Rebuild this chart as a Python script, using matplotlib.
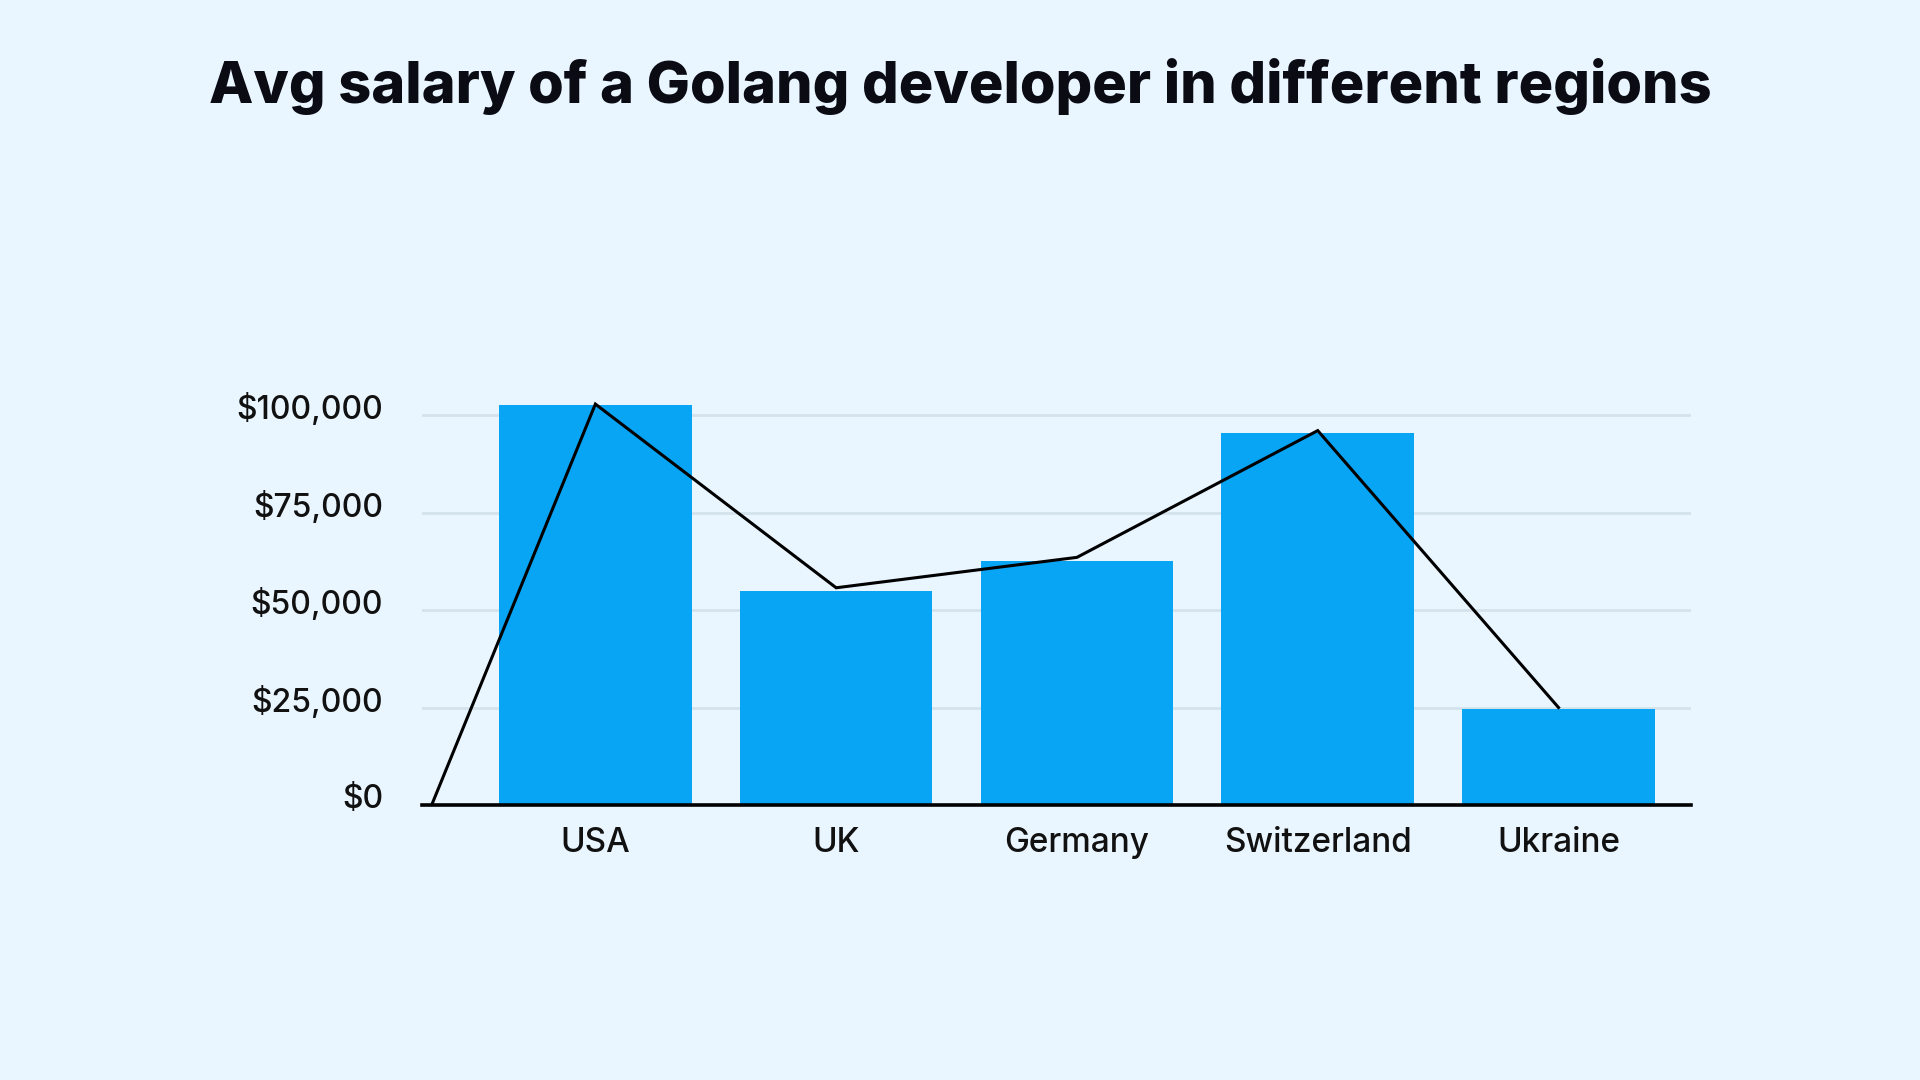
import matplotlib
matplotlib.use("Agg")
import matplotlib.pyplot as plt
import matplotlib.transforms as mtransforms
from matplotlib.ticker import FuncFormatter

# data
regions = ["USA", "UK", "Germany", "Switzerland", "Ukraine"]
salary = [102500, 55000, 62500, 95500, 24600]
line_x = [-0.68, 0, 1, 2, 3, 4]
line_y = [0, 102800, 55700, 63500, 96000, 25000]
yticks = [0, 25000, 50000, 75000, 100000]

BG = "#EAF6FF"
BAR = "#09A5F5"
GRID = "#D3E2EB"

plt.rcParams["font.family"] = ["Inter", "DejaVu Sans"]

fig = plt.figure(figsize=(19.2, 10.8), dpi=100, facecolor=BG)
ax = fig.add_axes([0.2198, 0.2546, 0.6609, 0.3792], facecolor=BG)

ax.bar(range(len(regions)), salary, width=0.8, color=BAR, zorder=2)
ax.plot(line_x, line_y, color="black", lw=2.2, zorder=3, solid_joinstyle="miter")

ax.set_xlim(-0.72, 4.55)
ax.set_ylim(0, 105000)
ax.set_yticks(yticks)
ax.yaxis.set_major_formatter(FuncFormatter(lambda v, p: f"${v:,.0f}"))
ax.set_xticks(range(len(regions)))
ax.set_xticklabels(regions)

ax.grid(axis="y", color=GRID, lw=2, zorder=0)
for s in ["top", "right", "left"]:
    ax.spines[s].set_visible(False)
ax.spines["bottom"].set_linewidth(2.6)
ax.spines["bottom"].set_color("black")
ax.spines["bottom"].set_zorder(4)

ax.tick_params(axis="both", length=0, colors="#111111")
ax.tick_params(axis="y", pad=28, labelsize=23)
ax.tick_params(axis="x", pad=16, labelsize=24)
for lab in ax.get_xticklabels() + ax.get_yticklabels():
    lab.set_fontweight("medium")
off = mtransforms.ScaledTranslation(0, 9 / 100, fig.dpi_scale_trans)
for lab in ax.get_yticklabels():
    lab.set_transform(lab.get_transform() + off)

fig.text(0.5, 1 - 103 / 1080, "Avg salary of a Golang developer in different regions",
         ha="center", va="baseline", fontsize=41.5, fontweight=800, color="#0B0B14")

fig.savefig("out.png", dpi=100, facecolor=BG)
